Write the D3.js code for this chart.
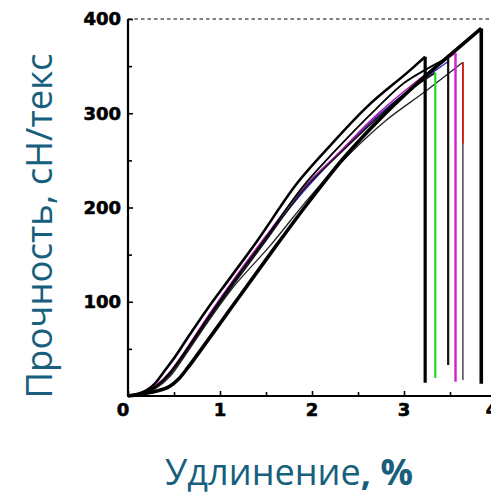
<!DOCTYPE html>
<html><head><meta charset="utf-8">
<script src="https://cdn.jsdelivr.net/npm/d3@7"></script>
<style>html,body{margin:0;padding:0;background:#fff;}svg{display:block;}</style>
</head><body>
<svg id="c" width="491" height="496"></svg>
<script>
// ---- data (elongation %, strength cN/tex) ----
const xTicks = [0, 1, 2, 3, 4];
const xMinor = [0.5, 1.5, 2.5, 3.5];
const yTicks = [100, 200, 300, 400];
const yMinor = [50, 150, 250, 350];

const curveUpper = [[0,0],[0.1,2],[0.2,6],[0.3,14],[0.4,27],[0.5,40],[0.65,62],[0.86,92],[1.1,124],[1.4,164],[1.84,226],[2.2,266],[2.6,307],[3.07,346],[3.23,360]];
const curveThick = [[0,0],[0.15,2],[0.3,5],[0.45,10],[0.55,18],[0.65,30],[0.8,50],[1.0,77],[1.14,96],[1.54,150],[1.95,204],[2.34,252],[2.8,300],[3.25,341],[3.55,366],[3.84,390]];
const curveSecond = [[0,0],[0.15,3],[0.3,10],[0.45,24],[0.6,44],[0.85,80],[1.1,115],[1.5,168],[1.9,222],[2.25,260],[2.7,305],[3.0,332],[3.23,346],[3.48,359]];
const curveGreen = [[0,0],[0.15,3],[0.3,9],[0.45,22],[0.6,42],[0.85,78],[1.1,112],[1.5,165],[1.9,218],[2.3,257],[2.7,294],[3.0,320],[3.34,343]];
const curveMagenta = [[0,0],[0.15,3],[0.3,11],[0.45,25],[0.6,45],[0.85,82],[1.1,117],[1.5,170],[1.9,220],[2.3,259],[2.7,298],[3.1,331],[3.56,364]];
const curveBlue = [[0,0],[0.15,3],[0.3,10],[0.45,23],[0.6,43],[0.85,79],[1.1,114],[1.5,167],[1.9,216],[2.3,258],[2.7,296],[3.1,328],[3.48,355]];
const curveRed = [[0,0],[0.15,2],[0.3,8],[0.45,20],[0.6,40],[0.85,76],[1.1,110],[1.55,160],[2.0,214],[2.41,257],[2.8,292],[3.23,323],[3.64,354]];

// break (vertical drop) lines: x, top, bottom
const breakX      = [3.23, 3.84, 3.34, 3.48, 3.56, 3.64, 3.64];
const breakTop    = [360, 390, 343, 359, 364, 354, 354];
const breakBottom = [14, 13, 19, 33, 15, 17, 268];

const series = [
  {pts: curveRed, color: "#222", w: 1.3},
  {pts: curveBlue, color: "#2020c0", w: 1.3},
  {pts: curveMagenta, color: "#b010b0", w: 1.4},
  {pts: curveGreen, color: "#111", w: 1.6},
  {pts: curveSecond, color: "#000", w: 1.8},
  {pts: curveUpper, color: "#000", w: 2.6},
  {pts: curveThick, color: "#000", w: 3.6}
];
const breakStyle = [
  {color:"#000", w:3.2},{color:"#000", w:3.6},{color:"#22dd22", w:2.2},
  {color:"#111", w:2.2},{color:"#d020d0", w:2.4},{color:"#555", w:1.6},{color:"#e01010", w:1.6}
];

const svg = d3.select("#c");
const x = d3.scaleLinear().domain([0, 4]).range([128, 496]);
const y = d3.scaleLinear().domain([0, 400]).range([396, 19]);

// top dashed line
svg.append("line").attr("x1", x(0)).attr("x2", 491).attr("y1", y(400)).attr("y2", y(400))
  .attr("stroke", "#000").attr("stroke-width", 1.1).attr("stroke-dasharray", "3.5,3");

// axes
const axisY = svg.append("g").attr("transform", `translate(${x(0)},0)`)
  .call(d3.axisRight(y).tickValues(yTicks).tickSize(5).tickFormat(""));
const axisYm = svg.append("g").attr("transform", `translate(${x(0)},0)`)
  .call(d3.axisRight(y).tickValues(yMinor).tickSize(4).tickFormat(""));
const axisX = svg.append("g").attr("transform", `translate(0,${y(0)})`)
  .call(d3.axisTop(x).tickValues(xTicks).tickSize(5).tickFormat(""));
const axisXm = svg.append("g").attr("transform", `translate(0,${y(0)})`)
  .call(d3.axisTop(x).tickValues(xMinor).tickSize(4).tickFormat(""));
[axisY, axisYm, axisX, axisXm].forEach(g => {
  g.selectAll("path").remove();
  g.selectAll("line").attr("stroke", "#000").attr("stroke-width", 1.6);
});
svg.append("line").attr("x1", x(0)).attr("x2", x(0)).attr("y1", y(400)).attr("y2", y(0))
  .attr("stroke", "#000").attr("stroke-width", 2.2);
svg.append("line").attr("x1", x(0) - 1).attr("x2", 491).attr("y1", y(0)).attr("y2", y(0))
  .attr("stroke", "#000").attr("stroke-width", 2.2);

// tick labels
svg.append("g").selectAll("text").data(yTicks).join("text")
  .attr("x", 121).attr("y", d => y(d)).attr("dy", "0.36em").attr("text-anchor", "end")
  .attr("font-family", "DejaVu Sans").attr("font-weight", "bold").attr("font-size", 18)
  .attr("stroke", "#000").attr("stroke-width", 0.6)
  .text(d => d);
svg.append("g").selectAll("text").data(xTicks).join("text")
  .attr("x", d => x(d) - (d === 0 ? 5 : 0) - (d === 4 ? 4 : 0)).attr("y", 416).attr("text-anchor", "middle")
  .attr("font-family", "DejaVu Sans").attr("font-weight", "bold").attr("font-size", 18)
  .attr("stroke", "#000").attr("stroke-width", 0.6)
  .text(d => d);

// curves
const line = d3.line().x(d => x(d[0])).y(d => y(d[1])).curve(d3.curveMonotoneX);
svg.append("g").selectAll("path").data(series).join("path")
  .attr("d", d => line(d.pts)).attr("fill", "none")
  .attr("stroke", d => d.color).attr("stroke-width", d => d.w)
  .attr("stroke-linejoin", "round");

// breaks
svg.append("g").selectAll("line").data(breakX).join("line")
  .attr("x1", d => x(d)).attr("x2", d => x(d))
  .attr("y1", (d, i) => y(breakTop[i])).attr("y2", (d, i) => y(breakBottom[i]))
  .attr("stroke", (d, i) => breakStyle[i].color).attr("stroke-width", (d, i) => breakStyle[i].w);

// titles
const teal = "#185f7d";
const xt = svg.append("text").attr("x", 289).attr("y", 485).attr("text-anchor", "middle")
  .attr("font-family", "Open Sans").attr("font-size", 35).attr("fill", teal);
xt.append("tspan").text("Удлинение");
xt.append("tspan").attr("font-weight", "bold").text(", %");
const yt = svg.append("text").attr("transform", "translate(52,226) rotate(-90)")
  .attr("text-anchor", "middle").attr("font-family", "Open Sans").attr("font-size", 35)
  .attr("fill", teal).text("Прочность, сН/текс");
// fit widths to reference
function fit(t, w) { const l = t.node().getComputedTextLength(); t.attr("font-size", 35 * w / l); }
fit(xt, 248); fit(yt, 345);
</script>
</body></html>
